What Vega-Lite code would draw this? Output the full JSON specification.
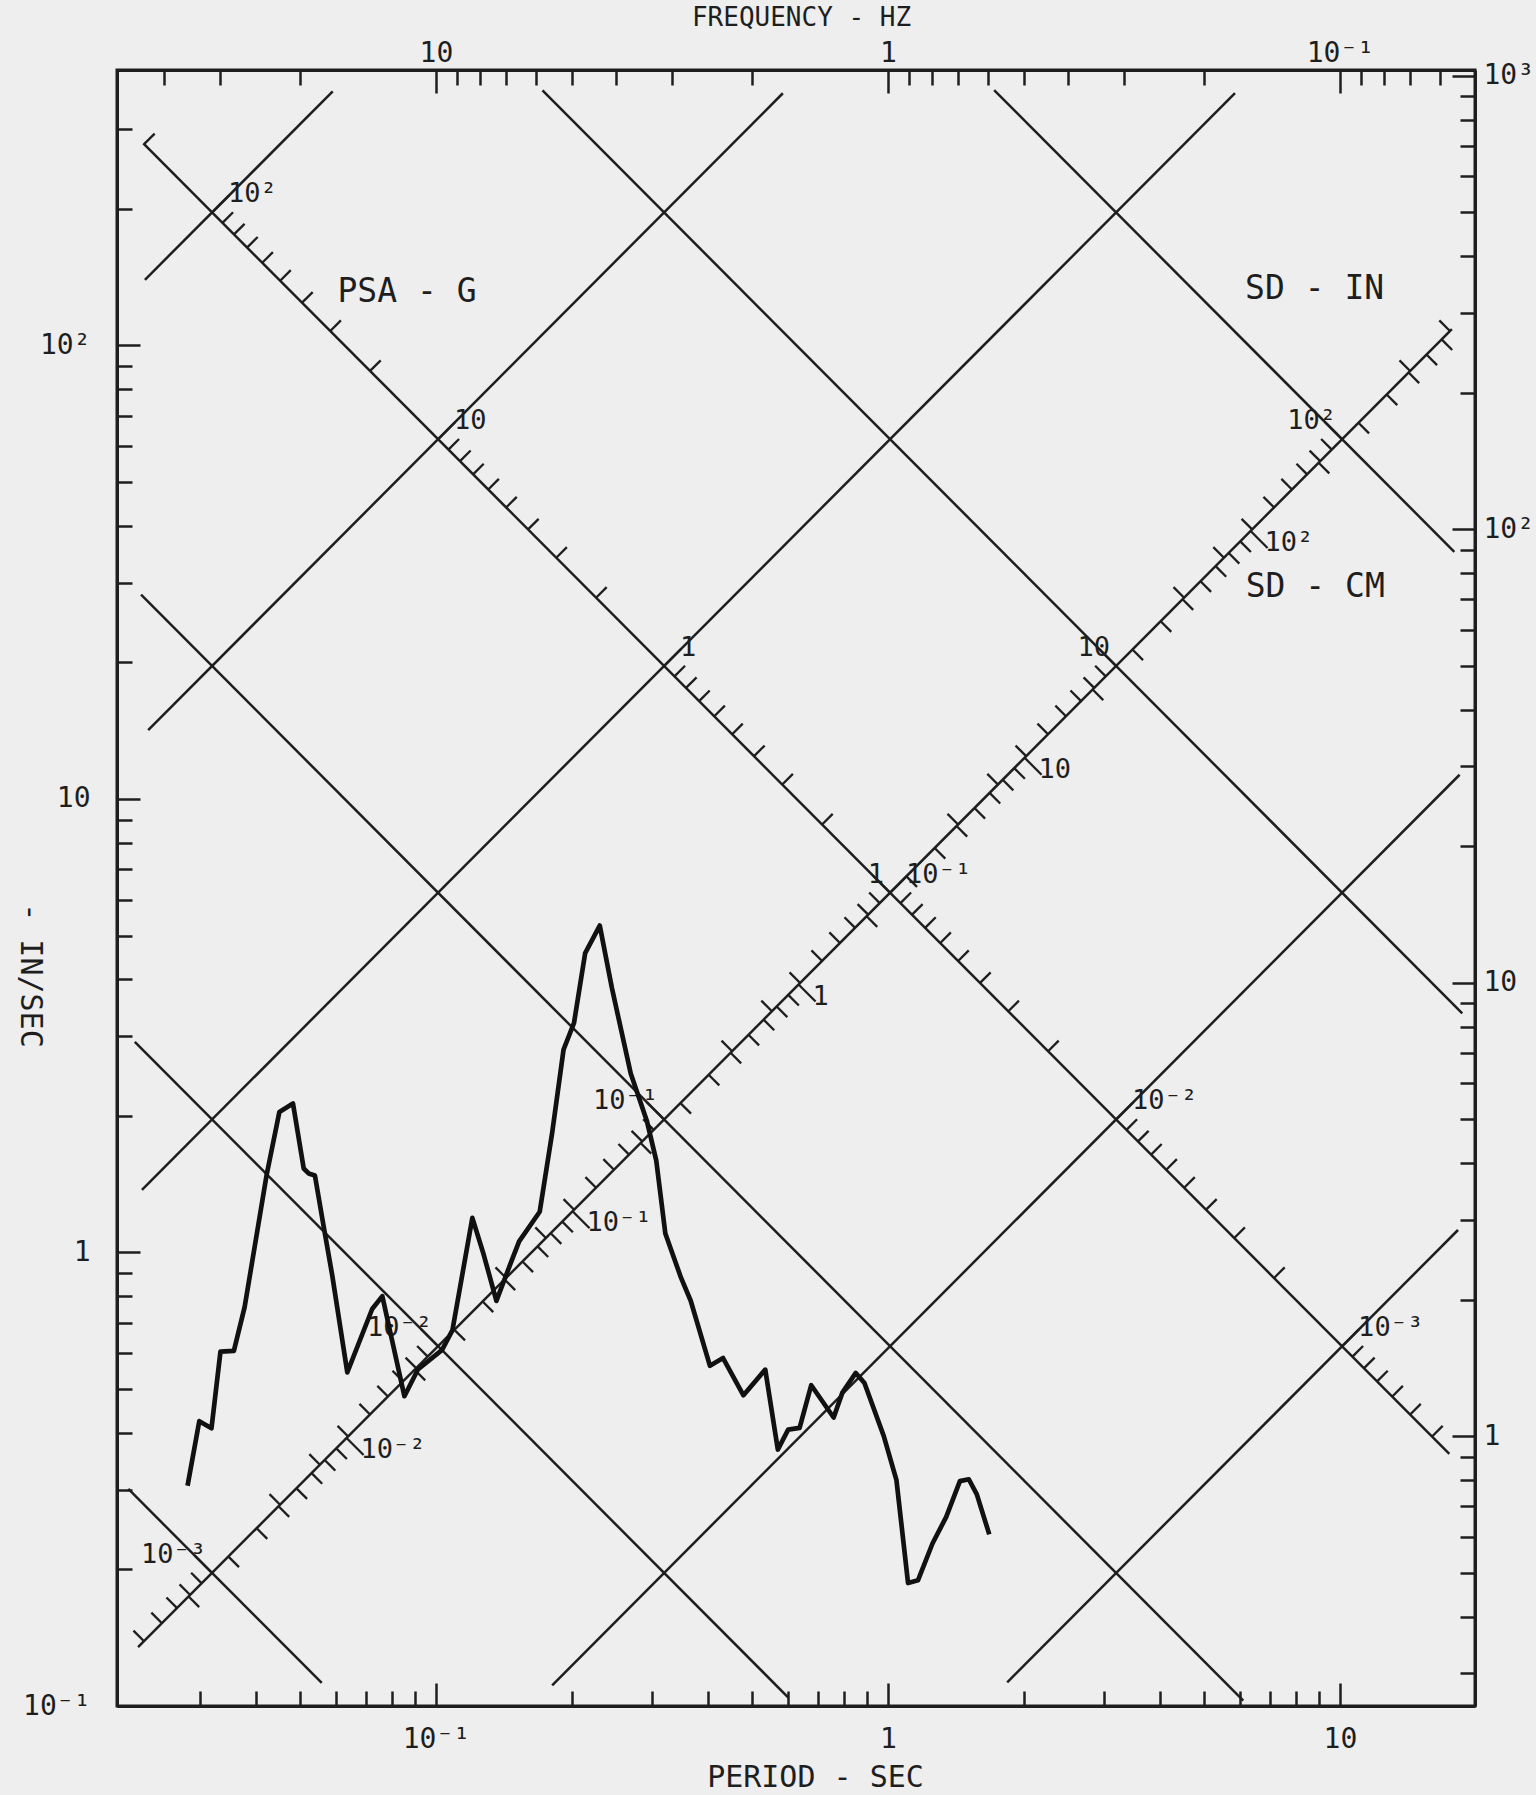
{
  "$schema": "https://vega.github.io/schema/vega-lite/v6.json",
  "width": 1358,
  "height": 1636,
  "autosize": {"type": "none"},
  "padding": {"left": 117, "top": 70, "right": 61, "bottom": 89},
  "background": "#eeeeee",
  "config": {
    "font": "DejaVu Sans Mono",
    "view": {"stroke": "#1e1e1e", "strokeWidth": 3},
    "axis": {"domainColor": "#1e1e1e", "domainWidth": 3, "tickColor": "#1e1e1e", "tickWidth": 2.5, "labelColor": "#1e1e1e", "titleColor": "#1e1e1e", "labelFont": "DejaVu Sans Mono", "titleFont": "DejaVu Sans Mono", "labelFontSize": 28, "titleFontSize": 30, "titleFontWeight": "normal", "grid": false, "labelFlush": false, "labelOverlap": false, "labelBaseline": "middle"}
  },
  "datasets": {
    "spectrum": [
      {"T":0.02822,"V":0.306},{"T":0.02996,"V":0.4247},{"T":0.03188,"V":0.4096},{"T":0.03337,"V":0.6045},{"T":0.03573,"V":0.607},{"T":0.03774,"V":0.7577},{"T":0.04222,"V":1.483},{"T":0.04505,"V":2.041},{"T":0.04828,"V":2.131},{"T":0.05099,"V":1.532},{"T":0.05229,"V":1.494},{"T":0.054,"V":1.478},{"T":0.05626,"V":1.164},{"T":0.05898,"V":0.8897},{"T":0.06368,"V":0.5439},{"T":0.07228,"V":0.7506},{"T":0.07612,"V":0.8012},{"T":0.08518,"V":0.482},{"T":0.09123,"V":0.552},{"T":0.1032,"V":0.6099},{"T":0.1088,"V":0.6742},{"T":0.1204,"V":1.192},{"T":0.1276,"V":0.9884},{"T":0.1361,"V":0.7822},{"T":0.1458,"V":0.9378},{"T":0.1528,"V":1.058},{"T":0.1697,"V":1.23},{"T":0.1809,"V":1.842},{"T":0.1916,"V":2.802},{"T":0.2021,"V":3.209},{"T":0.2139,"V":4.571},{"T":0.2304,"V":5.259},{"T":0.245,"V":3.839},{"T":0.2698,"V":2.481},{"T":0.2928,"V":1.953},{"T":0.3073,"V":1.594},{"T":0.3218,"V":1.101},{"T":0.3485,"V":0.88},{"T":0.3662,"V":0.7826},{"T":0.4039,"V":0.5625},{"T":0.4318,"V":0.5852},{"T":0.4791,"V":0.4844},{"T":0.5354,"V":0.5517},{"T":0.5708,"V":0.3677},{"T":0.6016,"V":0.4067},{"T":0.6377,"V":0.4104},{"T":0.6767,"V":0.5097},{"T":0.7585,"V":0.4327},{"T":0.793,"V":0.4909},{"T":0.849,"V":0.5426},{"T":0.8873,"V":0.5154},{"T":0.9792,"V":0.3937},{"T":1.0445,"V":0.3148},{"T":1.108,"V":0.1867},{"T":1.166,"V":0.1894},{"T":1.255,"V":0.2282},{"T":1.346,"V":0.2613},{"T":1.443,"V":0.3132},{"T":1.51,"V":0.3162},{"T":1.573,"V":0.2929},{"T":1.676,"V":0.239}
    ],
    "grid": [
      {"id":"P100","T":0.02271,"V":139.6},{"id":"P100","T":0.05912,"V":363.3},
      {"id":"P10","T":0.02309,"V":14.19},{"id":"P10","T":0.5856,"V":359.9},
      {"id":"P1","T":0.02237,"V":1.375},{"id":"P1","T":5.86,"V":360.1},
      {"id":"P0.1","T":0.02193,"V":0.1348},{"id":"P0.1","T":17.69,"V":108.7},
      {"id":"P0.01","T":0.1808,"V":0.1111},{"id":"P0.01","T":18.4,"V":11.31},
      {"id":"P0.001","T":1.836,"V":0.1128},{"id":"P0.001","T":18.25,"V":1.121},
      {"id":"S100","T":1.718,"V":365.7},{"id":"S100","T":17.91,"V":35.08},
      {"id":"S10","T":0.1721,"V":365.1},{"id":"S10","T":18.65,"V":3.369},
      {"id":"S1","T":0.02253,"V":278.9},{"id":"S1","T":17.46,"V":0.3598},
      {"id":"S0.1","T":0.02227,"V":28.21},{"id":"S0.1","T":6.113,"V":0.1028},
      {"id":"S0.01","T":0.02157,"V":2.913},{"id":"S0.01","T":0.6021,"V":0.1044},
      {"id":"S0.001","T":0.02087,"V":0.301},{"id":"S0.001","T":0.05591,"V":0.1124}
    ],
    "psaTicks": [
      {"T":0.022613,"V":277.89,"k":"m"},{"T":0.03198,"V":196.5,"k":"d"},{"T":0.03371,"V":186.42,"k":"m"},{"T":0.03575,"V":175.75,"k":"m"},{"T":0.03822,"V":164.4,"k":"m"},{"T":0.04129,"V":152.21,"k":"m"},{"T":0.04523,"V":138.95,"k":"m"},{"T":0.05057,"V":124.28,"k":"m"},{"T":0.05839,"V":107.63,"k":"m"},{"T":0.07151,"V":87.878,"k":"m"},
      {"T":0.10113,"V":62.139,"k":"d"},{"T":0.1066,"V":58.95,"k":"m"},{"T":0.11307,"V":55.579,"k":"m"},{"T":0.12087,"V":51.989,"k":"m"},{"T":0.13056,"V":48.132,"k":"m"},{"T":0.14302,"V":43.939,"k":"m"},{"T":0.1599,"V":39.3,"k":"m"},{"T":0.18464,"V":34.035,"k":"m"},{"T":0.22613,"V":27.789,"k":"m"},
      {"T":0.3198,"V":19.65,"k":"d"},{"T":0.3371,"V":18.642,"k":"m"},{"T":0.3575,"V":17.575,"k":"m"},{"T":0.3822,"V":16.44,"k":"m"},{"T":0.4129,"V":15.221,"k":"m"},{"T":0.4523,"V":13.895,"k":"m"},{"T":0.5057,"V":12.428,"k":"m"},{"T":0.5839,"V":10.763,"k":"m"},{"T":0.7151,"V":8.7878,"k":"m"},
      {"T":1.0113,"V":6.2139,"k":"d"},{"T":1.066,"V":5.895,"k":"m"},{"T":1.1307,"V":5.5579,"k":"m"},{"T":1.2087,"V":5.1989,"k":"m"},{"T":1.3056,"V":4.8132,"k":"m"},{"T":1.4302,"V":4.3939,"k":"m"},{"T":1.599,"V":3.93,"k":"m"},{"T":1.8464,"V":3.4035,"k":"m"},{"T":2.2613,"V":2.7789,"k":"m"},
      {"T":3.198,"V":1.965,"k":"d"},{"T":3.371,"V":1.8642,"k":"m"},{"T":3.575,"V":1.7575,"k":"m"},{"T":3.822,"V":1.644,"k":"m"},{"T":4.129,"V":1.5221,"k":"m"},{"T":4.523,"V":1.3895,"k":"m"},{"T":5.057,"V":1.2428,"k":"m"},{"T":5.839,"V":1.0763,"k":"m"},{"T":7.151,"V":0.87878,"k":"m"},
      {"T":10.113,"V":0.62139,"k":"d"},{"T":10.66,"V":0.5895,"k":"m"},{"T":11.307,"V":0.55579,"k":"m"},{"T":12.087,"V":0.51989,"k":"m"},{"T":13.056,"V":0.48132,"k":"m"},{"T":14.302,"V":0.43939,"k":"m"},{"T":15.99,"V":0.393,"k":"m"}
    ],
    "sdinTicks": [
      {"T":0.022611,"V":0.13894,"k":"m"},{"T":0.024769,"V":0.1522,"k":"m"},{"T":0.026753,"V":0.1644,"k":"m"},{"T":0.0286,"V":0.17575,"k":"m"},{"T":0.030335,"V":0.18641,"k":"m"},
      {"T":0.031976,"V":0.19649,"k":"d"},{"T":0.045221,"V":0.27789,"k":"m"},{"T":0.055385,"V":0.34034,"k":"m"},{"T":0.063953,"V":0.39299,"k":"m"},{"T":0.071501,"V":0.43938,"k":"m"},{"T":0.078326,"V":0.48131,"k":"m"},{"T":0.084601,"V":0.51988,"k":"m"},{"T":0.090443,"V":0.55577,"k":"m"},{"T":0.095929,"V":0.58948,"k":"m"},
      {"T":0.10112,"V":0.62137,"k":"d"},{"T":0.143,"V":0.87875,"k":"m"},{"T":0.17514,"V":1.07624,"k":"m"},{"T":0.20224,"V":1.24274,"k":"m"},{"T":0.22611,"V":1.38943,"k":"m"},{"T":0.24769,"V":1.52204,"k":"m"},{"T":0.26753,"V":1.64399,"k":"m"},{"T":0.286,"V":1.7575,"k":"m"},{"T":0.30335,"V":1.86411,"k":"m"},
      {"T":0.31976,"V":1.96494,"k":"d"},{"T":0.45221,"V":2.77885,"k":"m"},{"T":0.55385,"V":3.40339,"k":"m"},{"T":0.63953,"V":3.9299,"k":"m"},{"T":0.71501,"V":4.39375,"k":"m"},{"T":0.78326,"V":4.81311,"k":"m"},{"T":0.84601,"V":5.19875,"k":"m"},{"T":0.90443,"V":5.5577,"k":"m"},{"T":0.95929,"V":5.89483,"k":"m"},
      {"T":1.01118,"V":6.2137,"k":"d"},{"T":1.43002,"V":8.78747,"k":"m"},{"T":1.75142,"V":10.7624,"k":"m"},{"T":2.02236,"V":12.4274,"k":"m"},{"T":2.26107,"V":13.8943,"k":"m"},{"T":2.47688,"V":15.2204,"k":"m"},{"T":2.67533,"V":16.4399,"k":"m"},{"T":2.86005,"V":17.575,"k":"m"},{"T":3.03354,"V":18.6411,"k":"m"},
      {"T":3.19764,"V":19.6494,"k":"d"},{"T":4.52214,"V":27.7885,"k":"m"},{"T":5.53846,"V":34.0339,"k":"m"},{"T":6.39527,"V":39.299,"k":"m"},{"T":7.15012,"V":43.9375,"k":"m"},{"T":7.83257,"V":48.1311,"k":"m"},{"T":8.46014,"V":51.9875,"k":"m"},{"T":9.04427,"V":55.577,"k":"m"},{"T":9.59289,"V":58.9483,"k":"m"},
      {"T":10.1118,"V":62.137,"k":"d"},{"T":14.3002,"V":87.8747,"k":"m"},{"T":17.5142,"V":107.624,"k":"m"}
    ],
    "sdcmTicks": [
      {"T":0.028374,"V":0.17436,"k":"m"},{"T":0.034751,"V":0.21355,"k":"m"},{"T":0.040128,"V":0.24658,"k":"m"},{"T":0.044864,"V":0.27569,"k":"m"},{"T":0.049146,"V":0.302,"k":"m"},{"T":0.053084,"V":0.3262,"k":"m"},{"T":0.056749,"V":0.34872,"k":"m"},{"T":0.060191,"V":0.36988,"k":"m"},
      {"T":0.063447,"V":0.38988,"k":"d"},{"T":0.089728,"V":0.55138,"k":"m"},{"T":0.10989,"V":0.6753,"k":"m"},{"T":0.12689,"V":0.77977,"k":"m"},{"T":0.14187,"V":0.87181,"k":"m"},{"T":0.15541,"V":0.95502,"k":"m"},{"T":0.16787,"V":1.03154,"k":"m"},{"T":0.17946,"V":1.10275,"k":"m"},{"T":0.19034,"V":1.16965,"k":"m"},
      {"T":0.20064,"V":1.23292,"k":"d"},{"T":0.28374,"V":1.74361,"k":"m"},{"T":0.34751,"V":2.13548,"k":"m"},{"T":0.40128,"V":2.46584,"k":"m"},{"T":0.44864,"V":2.75689,"k":"m"},{"T":0.49146,"V":3.02002,"k":"m"},{"T":0.53084,"V":3.262,"k":"m"},{"T":0.56749,"V":3.4872,"k":"m"},{"T":0.60191,"V":3.69876,"k":"m"},
      {"T":0.63447,"V":3.89884,"k":"d"},{"T":0.89728,"V":5.51376,"k":"m"},{"T":1.09893,"V":6.75299,"k":"m"},{"T":1.26894,"V":7.79768,"k":"m"},{"T":1.41872,"V":8.71807,"k":"m"},{"T":1.55413,"V":9.55017,"k":"m"},{"T":1.67865,"V":10.3154,"k":"m"},{"T":1.79455,"V":11.0275,"k":"m"},{"T":1.90341,"V":11.6965,"k":"m"},
      {"T":2.00637,"V":12.3292,"k":"d"},{"T":2.83744,"V":17.4361,"k":"m"},{"T":3.47514,"V":21.3548,"k":"m"},{"T":4.01275,"V":24.6584,"k":"m"},{"T":4.48638,"V":27.5689,"k":"m"},{"T":4.91458,"V":30.2002,"k":"m"},{"T":5.30835,"V":32.62,"k":"m"},{"T":5.67486,"V":34.872,"k":"m"},{"T":6.01911,"V":36.9876,"k":"m"},
      {"T":6.3447,"V":38.9884,"k":"d"},{"T":8.9728,"V":55.1376,"k":"m"},{"T":10.9893,"V":67.5299,"k":"m"},{"T":12.6894,"V":77.9768,"k":"m"},{"T":14.1872,"V":87.1807,"k":"m"},{"T":15.5413,"V":95.5017,"k":"m"},{"T":16.7865,"V":103.154,"k":"m"}
    ],
    "psaLabels": [
      {"T":0.03198,"V":196.5,"t":"10²"},{"T":0.10113,"V":62.139,"t":"10"},{"T":0.3198,"V":19.65,"t":"1"},{"T":1.0113,"V":6.2139,"t":"10⁻¹"},{"T":3.198,"V":1.965,"t":"10⁻²"},{"T":10.113,"V":0.62139,"t":"10⁻³"}
    ],
    "sdinLabels": [
      {"T":0.031976,"V":0.196494,"t":"10⁻³"},{"T":0.10112,"V":0.62137,"t":"10⁻²"},{"T":0.319764,"V":1.96494,"t":"10⁻¹"},{"T":1.01118,"V":6.2137,"t":"1"},{"T":3.19764,"V":19.6494,"t":"10"},{"T":10.1118,"V":62.137,"t":"10²"}
    ],
    "sdcmLabels": [
      {"T":0.063447,"V":0.389884,"t":"10⁻²"},{"T":0.200637,"V":1.23292,"t":"10⁻¹"},{"T":0.63447,"V":3.89884,"t":"1"},{"T":2.00637,"V":12.3292,"t":"10"},{"T":6.3447,"V":38.9884,"t":"10²"}
    ],
    "notes": [
      {"T":0.0863,"V":131.3,"t":"PSA - G"},{"T":8.79,"V":133,"t":"SD - IN"},{"T":8.82,"V":29.4,"t":"SD - CM"}
    ]
  },
  "layer": [
    {
      "encoding": {
        "x": {"field": "T", "type": "quantitative", "scale": {"type": "log", "domain": [0.0197, 19.9], "nice": false},
          "axis": {"orient": "bottom", "values": [0.03,0.04,0.05,0.06,0.07,0.08,0.09,0.1,0.2,0.3,0.4,0.5,0.6,0.7,0.8,0.9,1,2,3,4,5,6,7,8,9,10],
            "labelExpr": "datum.value == 0.1 ? '10⁻¹' : datum.value == 1 ? '1' : datum.value == 10 ? '10' : ''",
            "tickSize": {"condition": {"test": "abs(log(datum.value)/LN10 - round(log(datum.value)/LN10)) < 0.01", "value": -23}, "value": -15},
            "labelPadding": 56, "title": "PERIOD - SEC", "titleX": 698, "titleY": 71, "titleBaseline": "middle", "titleAlign": "center"}},
        "y": {"field": "V", "type": "quantitative", "scale": {"type": "log", "domain": [0.1, 405], "nice": false},
          "axis": {"orient": "left", "values": [0.1,0.2,0.3,0.4,0.5,0.6,0.7,0.8,0.9,1,2,3,4,5,6,7,8,9,10,20,30,40,50,60,70,80,90,100,200,300],
            "labelExpr": "datum.value == 0.1 ? '10⁻¹' : datum.value == 1 ? '1' : datum.value == 10 ? '10' : datum.value == 100 ? '10²' : ''",
            "tickSize": {"condition": {"test": "abs(log(datum.value)/LN10 - round(log(datum.value)/LN10)) < 0.01", "value": -23}, "value": -15},
            "labelPadding": 50, "title": "- IN/SEC", "titleAngle": 90, "titleX": -88, "titleY": 905, "titleAlign": "center", "titleBaseline": "middle"}}
      },
      "layer": [
        {"data": {"name": "grid"}, "mark": {"type": "line", "color": "#1e1e1e", "strokeWidth": 2.5}, "encoding": {"detail": {"field": "id", "type": "nominal"}}},
        {"data": {"name": "psaTicks"}, "mark": {"type": "point", "shape": "M0,0L1,-1", "filled": false, "color": "#1e1e1e", "strokeWidth": 2.3, "opacity": 1},
          "encoding": {"size": {"condition": {"test": "datum.k == 'd'", "value": 1152}, "value": 450}}},
        {"data": {"name": "sdinTicks"}, "mark": {"type": "point", "shape": "M0,0L-1,-1", "filled": false, "color": "#1e1e1e", "strokeWidth": 2.3, "opacity": 1},
          "encoding": {"size": {"condition": {"test": "datum.k == 'd'", "value": 1152}, "value": 450}}},
        {"data": {"name": "sdcmTicks"}, "mark": {"type": "point", "shape": "M0,0L1,1", "filled": false, "color": "#1e1e1e", "strokeWidth": 2.3, "opacity": 1},
          "encoding": {"size": {"condition": {"test": "datum.k == 'd'", "value": 1152}, "value": 450}}},
        {"data": {"name": "psaLabels"}, "mark": {"type": "text", "align": "left", "baseline": "middle", "dx": 16, "dy": -18, "fontSize": 27, "color": "#1e1e1e"}, "encoding": {"text": {"field": "t"}}},
        {"data": {"name": "sdinLabels"}, "mark": {"type": "text", "align": "right", "baseline": "middle", "dx": -6, "dy": -18, "fontSize": 27, "color": "#1e1e1e"}, "encoding": {"text": {"field": "t"}}},
        {"data": {"name": "sdcmLabels"}, "mark": {"type": "text", "align": "left", "baseline": "middle", "dx": 14, "dy": 12, "fontSize": 27, "color": "#1e1e1e"}, "encoding": {"text": {"field": "t"}}},
        {"data": {"name": "notes"}, "mark": {"type": "text", "align": "center", "baseline": "middle", "fontSize": 33, "color": "#1e1e1e"}, "encoding": {"text": {"field": "t"}}},
        {"data": {"name": "spectrum"}, "mark": {"type": "line", "color": "#111111", "strokeWidth": 4.7, "strokeJoin": "round"}}
      ]
    },
    {
      "data": {"values": [{"f": 1, "cm": 1}]},
      "mark": {"type": "point", "opacity": 0},
      "encoding": {
        "x": {"field": "f", "type": "quantitative", "scale": {"type": "log", "domain": [0.050251, 50.761], "reverse": true, "nice": false},
          "axis": {"orient": "top", "values": [40,30,20,10,9,8,7,6,5,4,3,2,1,0.9,0.8,0.7,0.6,0.5,0.4,0.3,0.2,0.1,0.09,0.08,0.07,0.06],
            "labelExpr": "datum.value == 0.1 ? '10⁻¹' : datum.value == 1 ? '1' : datum.value == 10 ? '10' : ''",
            "tickSize": {"condition": {"test": "abs(log(datum.value)/LN10 - round(log(datum.value)/LN10)) < 0.01", "value": -23}, "value": -15},
            "labelPadding": 40, "title": "FREQUENCY - HZ", "titleFontSize": 26, "titleX": 684, "titleY": -45, "titleBaseline": "alphabetic", "titleAlign": "center"}},
        "y": {"field": "cm", "type": "quantitative", "scale": {"type": "log", "domain": [0.254, 1028.7], "nice": false},
          "axis": {"orient": "right", "values": [0.3,0.4,0.5,0.6,0.7,0.8,0.9,1,2,3,4,5,6,7,8,9,10,20,30,40,50,60,70,80,90,100,200,300,400,500,600,700,800,900,1000],
            "labelExpr": "datum.value == 1 ? '1' : datum.value == 10 ? '10' : datum.value == 100 ? '10²' : datum.value == 1000 ? '10³' : ''",
            "tickSize": {"condition": {"test": "abs(log(datum.value)/LN10 - round(log(datum.value)/LN10)) < 0.01", "value": -23}, "value": -15},
            "labelPadding": 31, "labelAlign": "left", "title": null}}
      }
    }
  ],
  "resolve": {"scale": {"x": "independent", "y": "independent"}}
}
